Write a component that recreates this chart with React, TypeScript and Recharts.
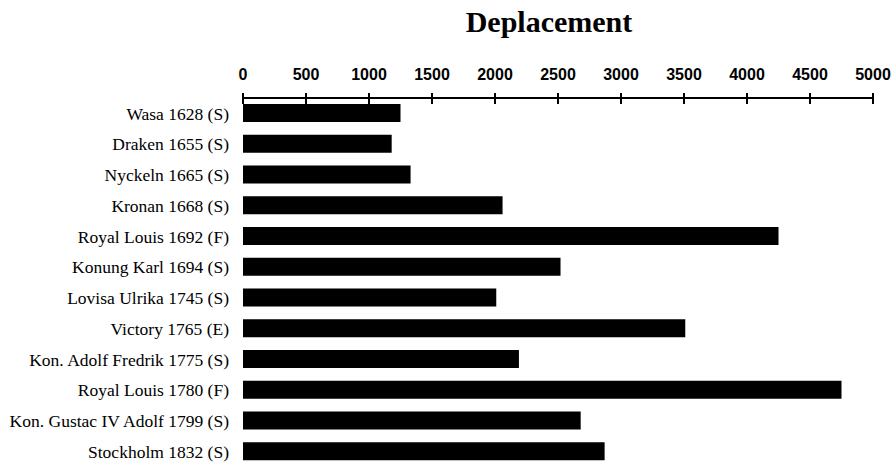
import { BarChart, Bar, XAxis, YAxis } from "recharts";

const ships = [
  "Wasa 1628 (S)",
  "Draken 1655 (S)",
  "Nyckeln 1665 (S)",
  "Kronan 1668 (S)",
  "Royal Louis 1692 (F)",
  "Konung Karl 1694 (S)",
  "Lovisa Ulrika 1745 (S)",
  "Victory 1765 (E)",
  "Kon. Adolf Fredrik 1775 (S)",
  "Royal Louis 1780 (F)",
  "Kon. Gustac IV Adolf 1799 (S)",
  "Stockholm 1832 (S)"
];

const deplacement = [1250, 1180, 1330, 2060, 4250, 2520, 2010, 3510, 2190, 4750, 2680, 2870];

const xTicks = [0, 500, 1000, 1500, 2000, 2500, 3000, 3500, 4000, 4500, 5000];

const data = ships.map((name, i) => ({ name, value: deplacement[i] }));

// tick label plus a small mark crossing the axis line
function TopTick(props: any) {
  const { x, y, payload } = props;
  return (
    <g>
      <line x1={x} x2={x} y1={y + 13} y2={y + 24} stroke="#000" strokeWidth={2} />
      <text
        x={x}
        y={y}
        textAnchor="middle"
        fill="#000"
        fontFamily="'Liberation Sans', Arial, sans-serif"
        fontWeight="bold"
        fontSize={16}
      >
        {payload.value}
      </text>
    </g>
  );
}

export default function App() {
  return (
    <div style={{ position: "absolute", left: 0, top: 0, width: 895, height: 470, background: "#fff" }}>
      <div
        style={{
          position: "absolute",
          top: 6,
          left: 449,
          width: 200,
          textAlign: "center",
          fontFamily: "'Liberation Serif', 'Times New Roman', serif",
          fontWeight: "bold",
          fontSize: 30,
          lineHeight: "32px",
          color: "#000"
        }}
      >
        Deplacement
      </div>
      <BarChart
        width={895}
        height={470}
        data={data}
        layout="vertical"
        margin={{ top: 0, right: 22, bottom: 3, left: 0 }}
      >
        <XAxis
          type="number"
          orientation="top"
          domain={[0, 5000]}
          ticks={xTicks}
          height={98}
          tickLine={false}
          tickSize={0}
          tickMargin={18}
          axisLine={{ stroke: "#000", strokeWidth: 2 }}
          tick={<TopTick />}
          interval={0}
        />
        <YAxis
          type="category"
          dataKey="name"
          width={243}
          axisLine={false}
          tickLine={false}
          tickSize={0}
          tickMargin={14}
          interval={0}
          tick={{
            fill: "#000",
            fontSize: 17.5,
            fontFamily: "'Liberation Serif', 'Times New Roman', serif"
          }}
        />
        <Bar dataKey="value" fill="#000" barSize={18} isAnimationActive={false} />
      </BarChart>
    </div>
  );
}
